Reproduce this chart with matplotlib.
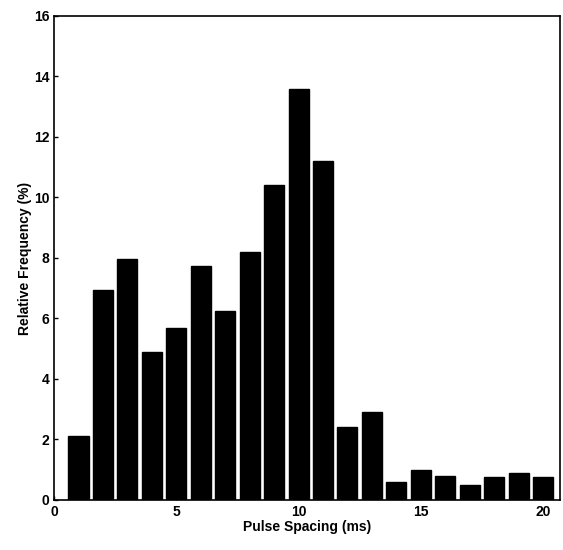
import matplotlib
matplotlib.use("Agg")
import matplotlib.pyplot as plt
import numpy as np

# pulse spacing bins (ms) and relative frequency (%)
spacing = np.arange(1, 21)
freq = [2.1, 6.95, 7.95, 4.9, 5.7, 7.75, 6.25, 8.2, 10.4, 13.6,
        11.2, 2.4, 2.9, 0.6, 1.0, 0.8, 0.5, 0.75, 0.9, 0.75]

plt.rcParams["font.family"] = ["Liberation Sans", "DejaVu Sans"]
plt.rcParams["font.weight"] = "bold"

fig = plt.figure(figsize=(5.63, 5.5), dpi=100)
ax = fig.add_axes([0.096, 0.091, 0.899, 0.88])

ax.bar(spacing, freq, width=0.82, color="black", edgecolor="black")

ax.set_xlim(0, 20.7)
ax.set_ylim(0, 16)
ax.set_xticks([0, 5, 10, 15, 20])
ax.set_yticks(range(0, 17, 2))
ax.tick_params(direction="in", length=3, labelsize=10, width=1)
for lbl in ax.get_xticklabels() + ax.get_yticklabels():
    lbl.set_fontweight("bold")

ax.set_xlabel("Pulse Spacing (ms)", fontsize=10, fontweight="bold", labelpad=1)
ax.set_ylabel("Relative Frequency (%)", fontsize=10, fontweight="bold", labelpad=1)

for s in ax.spines.values():
    s.set_linewidth(1.2)

fig.savefig("out.png", dpi=100)
